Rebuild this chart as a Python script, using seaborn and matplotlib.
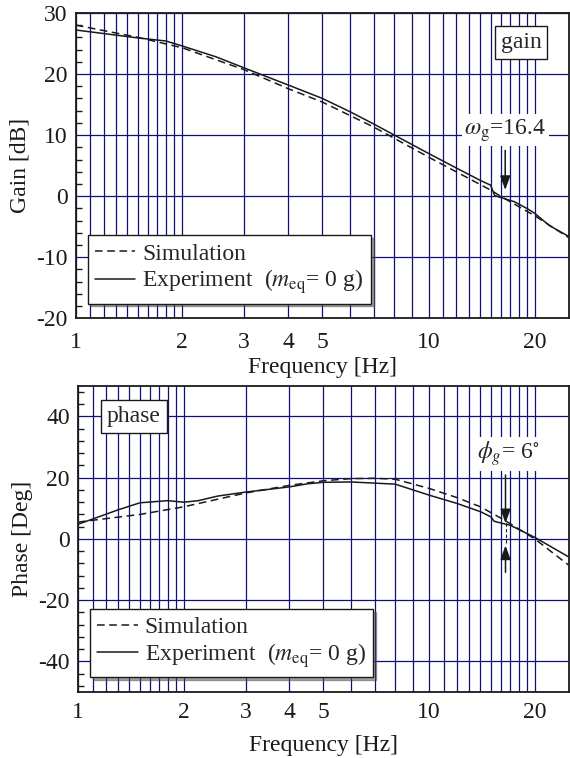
import numpy as np
import pandas as pd
import matplotlib
matplotlib.use("Agg")
import matplotlib.pyplot as plt
import seaborn as sns

sns.set_theme(style="ticks")
plt.rcParams['font.family'] = ['Liberation Serif', 'DejaVu Serif']
plt.rcParams['mathtext.fontset'] = 'stix'
plt.rcParams['font.size'] = 17
plt.rcParams['axes.unicode_minus'] = False

# gain data
gain_f_exp = [1, 1.5, 1.8, 2, 2.5, 3, 4, 5, 6, 7, 8, 10, 12, 14, 15, 15.4, 16, 17.5, 19, 20, 22, 25]
gain_exp = [27.2, 25.9, 25.4, 24.6, 22.8, 21.0, 18.2, 16.0, 13.8, 11.8, 10.0, 7.0, 4.6, 2.6, 1.8, 0.1, -0.2, -0.9, -2.0, -2.8, -4.8, -6.6]
gain_f_sim = [1, 1.5, 2, 3, 4, 5, 7, 10, 15, 16, 20, 25]
gain_sim = [28.0, 26.0, 24.3, 20.7, 17.6, 15.4, 11.3, 6.4, 1.0, 0.0, -3.2, -6.8]

# phase data
phase_f_exp = [1, 1.1, 1.3, 1.5, 1.8, 2, 2.2, 2.5, 3, 4, 4.5, 5, 6, 8, 10, 12, 14, 15, 15.3, 16, 17, 20, 25]
phase_exp = [4.8, 6.5, 9.5, 11.8, 12.5, 12.0, 12.5, 14.0, 15.3, 17.0, 18.0, 18.5, 18.6, 17.9, 14.3, 11.6, 8.9, 7.2, 5.8, 5.2, 4.5, 0.5, -5.9]
phase_f_sim = [1, 1.5, 2, 3, 4, 5, 6, 7, 8, 10, 12, 14, 16, 17, 20, 25]
phase_sim = [5.5, 8.0, 10.5, 15.0, 17.5, 19.0, 19.7, 19.8, 19.5, 16.5, 13.5, 10.5, 6.8, 5.0, 0.0, -8.6]

x_labels = [1, 2, 3, 4, 5, 10, 20]
x_grid = [1.1, 1.2, 1.3, 1.4, 1.5, 1.6, 1.7, 1.8, 1.9, 6, 7, 8, 9,
          11, 12, 13, 14, 15, 16, 17, 18, 19]

grid_col = '#10107a'
lab_exp = 'Experiment  ($m_{\\rm eq}$= 0 g)'

fig = plt.figure(figsize=(5.7, 7.58), dpi=100)
ax1 = fig.add_axes([0.133, 0.580, 0.865, 0.403])
ax2 = fig.add_axes([0.137, 0.087, 0.861, 0.404])


def style_axis(ax, ylim, yticks, yminor):
    ax.set_xscale('log')
    ax.set_xlim(1, 25)
    ax.set_ylim(*ylim)
    ax.set_xticks(x_labels)
    ax.set_xticklabels([str(v) for v in x_labels])
    ax.set_xticks(x_grid, minor=True)
    ax.set_xticklabels([], minor=True)
    ax.set_yticks(yticks)
    ax.set_yticks(yminor, minor=True)
    ax.tick_params(axis='x', which='both', length=0, pad=10, labelsize=17, colors='k')
    ax.tick_params(axis='y', which='major', length=0, pad=6, labelsize=17, colors='k')
    ax.tick_params(axis='y', which='minor', direction='in', length=4, width=1, color='k')
    ax.grid(True, which='both', axis='x', color=grid_col, lw=0.9)
    ax.grid(True, which='major', axis='y', color=grid_col, lw=0.9)
    ax.set_axisbelow(True)
    for s in ax.spines.values():
        s.set_color('k')
        s.set_linewidth(1.3)
        s.set_zorder(5)


df_g_sim = pd.DataFrame({'f': gain_f_sim, 'v': gain_sim})
df_g_exp = pd.DataFrame({'f': gain_f_exp, 'v': gain_exp})
sns.lineplot(data=df_g_sim, x='f', y='v', ax=ax1, color='k', lw=1.1,
             linestyle=(0, (5, 3)), label='Simulation')
sns.lineplot(data=df_g_exp, x='f', y='v', ax=ax1, color='k', lw=1.1, label=lab_exp)
style_axis(ax1, (-20, 30), [-20, -10, 0, 10, 20, 30],
           [v for v in range(-20, 31, 2) if v % 10 != 0])
ax1.set_xlabel('Frequency [Hz]', fontsize=17, color='k', labelpad=3)
ax1.set_ylabel('Gain [dB]', fontsize=17, color='k', labelpad=4)

df_p_sim = pd.DataFrame({'f': phase_f_sim, 'v': phase_sim})
df_p_exp = pd.DataFrame({'f': phase_f_exp, 'v': phase_exp})
sns.lineplot(data=df_p_sim, x='f', y='v', ax=ax2, color='k', lw=1.1,
             linestyle=(0, (5, 3)), label='Simulation')
sns.lineplot(data=df_p_exp, x='f', y='v', ax=ax2, color='k', lw=1.1, label=lab_exp)
style_axis(ax2, (-50, 50), [-40, -20, 0, 20, 40],
           [v for v in range(-48, 50, 4) if v % 20 != 0])
ax2.tick_params(axis='x', which='both', pad=7)
ax2.set_xlabel('Frequency [Hz]', fontsize=17, color='k', labelpad=9)
ax2.set_ylabel('Phase [Deg]', fontsize=17, color='k', labelpad=4)

for ax in (ax1, ax2):
    leg = ax.legend(loc='lower left', bbox_to_anchor=(0.024, 0.048), borderaxespad=0,
                    fancybox=False, shadow=True, framealpha=1, fontsize=17,
                    handlelength=1.7, handletextpad=0.3, labelspacing=0.12,
                    borderpad=0.32)
    leg.get_frame().set_edgecolor('k')
    leg.get_frame().set_linewidth(1.0)
    leg.set_zorder(6)

# box labels
ax1.text(0.903, 0.902, 'gain', transform=ax1.transAxes, ha='center', va='center',
         fontsize=17, zorder=7,
         bbox=dict(boxstyle='square,pad=0.25', fc='white', ec='k', lw=1.0))
ax2.text(0.114, 0.899, 'phase', transform=ax2.transAxes, ha='center', va='center',
         fontsize=17, zorder=7,
         bbox=dict(boxstyle='square,pad=0.25', fc='white', ec='k', lw=1.0))

# gain crossover annotation
ax1.text(16.5, 10.8, '$\\omega_{\\rm g}$=16.4', ha='center', va='center', fontsize=17,
         zorder=7, bbox=dict(boxstyle='square,pad=0.1', fc='white', ec='none'))
ax1.annotate('', xy=(16.5, 1.0), xytext=(16.5, 7.5), zorder=7,
             arrowprops=dict(arrowstyle='-|>,head_length=0.5,head_width=0.18',
                             color='k', lw=1.1, shrinkA=0, shrinkB=0))

# phase margin annotation
ax2.text(16.8, 27.8, '$\\phi_g$= 6$^{\\circ}$', ha='center', va='center', fontsize=17,
         zorder=7, bbox=dict(boxstyle='square,pad=0.1', fc='white', ec='none'))
ax2.annotate('', xy=(16.5, 5.1), xytext=(16.5, 20.9), zorder=7,
             arrowprops=dict(arrowstyle='-|>,head_length=0.5,head_width=0.18',
                             color='k', lw=1.1, shrinkA=0, shrinkB=0))
ax2.annotate('', xy=(16.5, -2.1), xytext=(16.5, -10.9), zorder=7,
             arrowprops=dict(arrowstyle='-|>,head_length=0.5,head_width=0.18',
                             color='k', lw=1.1, shrinkA=0, shrinkB=0))
ax2.plot([16.5, 16.5], [5.1, -2.1], color='k', lw=0.8, linestyle=(0, (3, 2)))

fig.savefig('out.png', dpi=100)
